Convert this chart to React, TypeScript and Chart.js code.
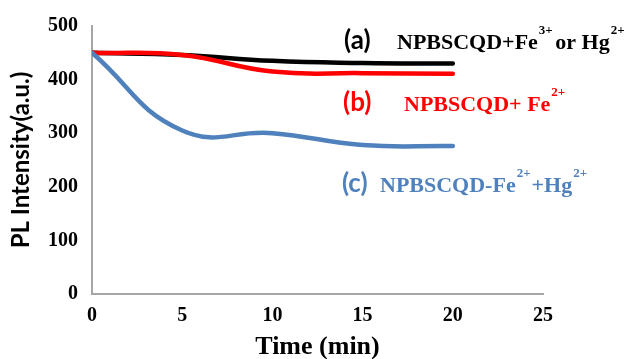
import React, { useEffect, useRef } from "react";
import { Chart, registerables } from "chart.js";

Chart.register(...registerables);

const times = [0, 5, 10, 15, 20];
const seriesA = [450, 446, 435, 431, 430];
const seriesB = [450, 446, 415, 412, 411];
const seriesC = [450, 305, 300, 278, 276];
const xTicks = [0, 5, 10, 15, 20, 25];
const yTicks = [0, 100, 200, 300, 400, 500];

const SERIF = "'Liberation Serif', 'Times New Roman', serif";
const SANS = "Lato, 'Open Sans', sans-serif";

type Seg = { t: string; sup?: boolean; after?: number };
const labels: { tag: string; tagX: number; x: number; y: number; color: string; segs: Seg[] }[] = [
  { tag: "(a)", tagX: 344, x: 397, y: 49, color: "#000000", segs: [{ t: "NPBSCQD+Fe" }, { t: "3+", sup: true, after: -4 }, { t: " or Hg" }, { t: "2+", sup: true }] },
  { tag: "(b)", tagX: 343, x: 404, y: 111, color: "#FF0000", segs: [{ t: "NPBSCQD+ Fe" }, { t: "2+", sup: true }] },
  { tag: "(c)", tagX: 342, x: 380, y: 192, color: "#4F81BD", segs: [{ t: "NPBSCQD-Fe" }, { t: "2+", sup: true }, { t: "+Hg" }, { t: "2+", sup: true }] },
];

const annotPlugin = {
  id: "annot",
  afterDraw(chart: any) {
    const ctx = chart.ctx;
    ctx.save();
    ctx.textBaseline = "alphabetic";
    ctx.textAlign = "left";
    for (const l of labels) {
      ctx.fillStyle = l.color;
      ctx.font = `bold 26px ${SANS}`;
      ctx.fillText(l.tag, l.tagX, l.y);
      let x = l.x;
      for (const s of l.segs) {
        if (s.sup) {
          ctx.font = `bold 13px ${SERIF}`;
          ctx.fillText(s.t, x + 1, l.y - 15);
          x += ctx.measureText(s.t).width + 2 + (s.after || 0);
        } else {
          ctx.font = `bold 22px ${SERIF}`;
          ctx.fillText(s.t, x, l.y);
          x += ctx.measureText(s.t).width;
        }
      }
    }
    ctx.restore();
  },
};

export default function App() {
  const ref = useRef<HTMLCanvasElement>(null);
  useEffect(() => {
    document.body.style.margin = "0";
    const mk = (d: number[]) => times.map((t, i) => ({ x: t, y: d[i] }));
    const common = { borderWidth: 4.5, pointRadius: 0, tension: 0.45, borderCapStyle: "round" as const, fill: false };
    const chart = new Chart(ref.current!, {
      type: "line",
      data: {
        datasets: [
          { label: "c", data: mk(seriesC), borderColor: "#4F81BD", ...common },
          { label: "b", data: mk(seriesB), borderColor: "#FF0000", ...common },
          { label: "a", data: mk(seriesA), borderColor: "#000000", ...common },
        ],
      },
      options: {
        animation: false,
        responsive: false,
        maintainAspectRatio: false,
        layout: { padding: { left: 0, top: 22, right: 83, bottom: 0 } },
        plugins: { legend: { display: false }, tooltip: { enabled: false } },
        scales: {
          x: {
            type: "linear",
            min: 0,
            max: 25,
            afterBuildTicks: (s: any) => { s.ticks = xTicks.map((v) => ({ value: v })); },
            afterFit: (s: any) => { s.height = 65; },
            grid: { display: false, drawTicks: false },
            border: { display: true, color: "#A6A6A6", width: 2 },
            ticks: { padding: 10, color: "#000", font: { family: SERIF, weight: "bold", size: 20 }, maxRotation: 0 },
            title: { display: true, text: "Time (min)", color: "#000", font: { family: SERIF, weight: "bold", size: 26, lineHeight: 0.9 }, padding: { top: 0, bottom: 0 } },
          },
          y: {
            min: 0,
            max: 500,
            afterBuildTicks: (s: any) => { s.ticks = yTicks.map((v) => ({ value: v })); },
            afterFit: (s: any) => { s.width = 92; },
            grid: { display: false, drawTicks: false },
            border: { display: true, color: "#A6A6A6", width: 2 },
            ticks: { padding: 14, color: "#000", font: { family: SERIF, weight: "bold", size: 20 } },
            title: { display: true, text: "PL Intensity(a.u.)", color: "#000", font: { family: SANS, weight: "bold", size: 24 }, padding: { top: 7, bottom: 0 } },
          },
        },
      },
      plugins: [annotPlugin],
    });
    return () => chart.destroy();
  }, []);
  return (
    <div style={{ position: "absolute", left: 0, top: 0, width: 626, height: 359, background: "#fff" }}>
      <canvas ref={ref} width={626} height={359} style={{ width: 626, height: 359 }} />
    </div>
  );
}
